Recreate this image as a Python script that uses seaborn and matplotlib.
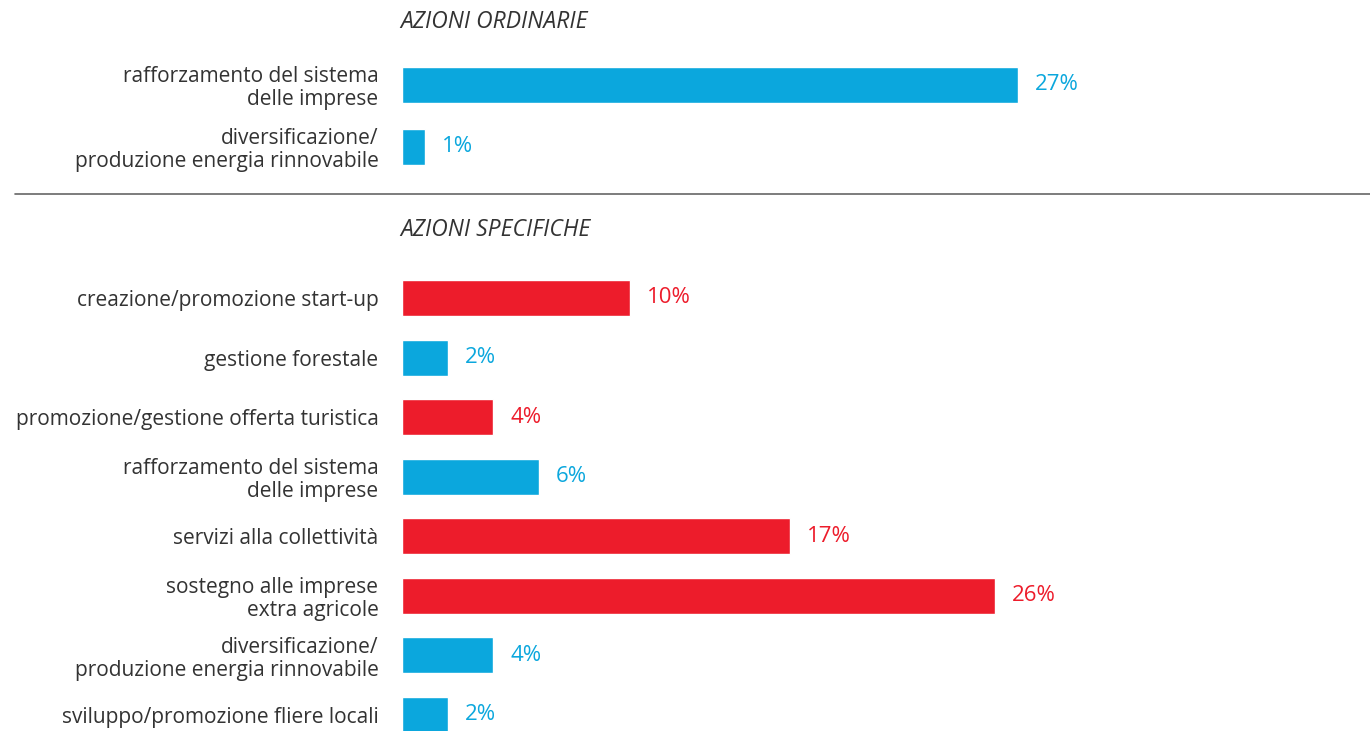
import pandas as pd
import numpy as np
import matplotlib
matplotlib.use('Agg')
import matplotlib.pyplot as plt
import seaborn as sns

# data
ord_labels = ['rafforzamento del sistema\ndelle imprese',
              'diversificazione/\nproduzione energia rinnovabile']
ord_values = [27, 1]
ord_colors = ['blue', 'blue']

spec_labels = ['creazione/promozione start-up',
               'gestione forestale',
               'promozione/gestione offerta turistica',
               'rafforzamento del sistema\ndelle imprese',
               'servizi alla collettività',
               'sostegno alle imprese\nextra agricole',
               'diversificazione/\nproduzione energia rinnovabile',
               'sviluppo/promozione fliere locali']
spec_values = [10, 2, 4, 6, 17, 26, 4, 2]
spec_colors = ['red', 'blue', 'red', 'blue', 'red', 'red', 'blue', 'blue']

palette = {'blue': '#0BA7DD', 'red': '#ED1C2B'}
text_color = '#333333'

sns.set_theme(style='white')
plt.rcParams['font.family'] = ['Open Sans', 'DejaVu Sans']

W, H = 1370, 731
fig = plt.figure(figsize=(W / 100, H / 100), dpi=100)

px = 22.8  # pixels per percent
x0 = 402
xmax = 42
ax_w = xmax * px / W


def draw_panel(ax, labels, values, colors, width):
    df = pd.DataFrame({'label': labels, 'value': values, 'color': colors})
    sns.barplot(data=df, x='value', y='label', hue='color', palette=palette,
                orient='h', width=width, legend=False, ax=ax,
                order=labels, dodge=False, saturation=1)
    for i, (v, c) in enumerate(zip(values, colors)):
        ax.text(v + 0.75, i, f'{v}%', color=palette[c], va='center',
                ha='left', fontsize=16)
    ax.set_xlim(0, xmax)
    ax.set_xlabel('')
    ax.set_ylabel('')
    ax.set_xticks([])
    ax.tick_params(axis='y', length=0, pad=17, labelsize=15,
                   labelcolor=text_color)
    for lbl in ax.get_yticklabels():
        lbl.set_horizontalalignment('right')
        lbl.set_linespacing(1.1)
    sns.despine(ax=ax, left=True, bottom=True)
    ax.patch.set_alpha(0)


# top panel: centres at 85 and 147 px
sp = 62
top = 85 - sp / 2
ax1 = fig.add_axes([x0 / W, 1 - (top + 2 * sp) / H, ax_w, 2 * sp / H])
draw_panel(ax1, ord_labels, ord_values, ord_colors, 36 / sp)
ax1.set_ylim(1.5, -0.5)

# bottom panel: centres from 298 to 715 px
sp2 = (715 - 298) / 7
top2 = 298 - sp2 / 2
h2 = H - top2
ax2 = fig.add_axes([x0 / W, 0, ax_w, h2 / H])
draw_panel(ax2, spec_labels, spec_values, spec_colors, 36 / sp2)
ax2.set_ylim(-0.5 + h2 / sp2, -0.5)

# section titles and separator
fig.text(400 / W, 1 - 22 / H, 'AZIONI ORDINARIE', style='italic',
         fontsize=16.5, color=text_color, va='center', ha='left')
fig.text(400 / W, 1 - 230 / H, 'AZIONI SPECIFICHE', style='italic',
         fontsize=16.5, color=text_color, va='center', ha='left')
fig.add_artist(plt.Line2D([15 / W, 1], [1 - 194 / H, 1 - 194 / H],
                          color='#666666', lw=1.2))

fig.savefig('out.png', dpi=100)
